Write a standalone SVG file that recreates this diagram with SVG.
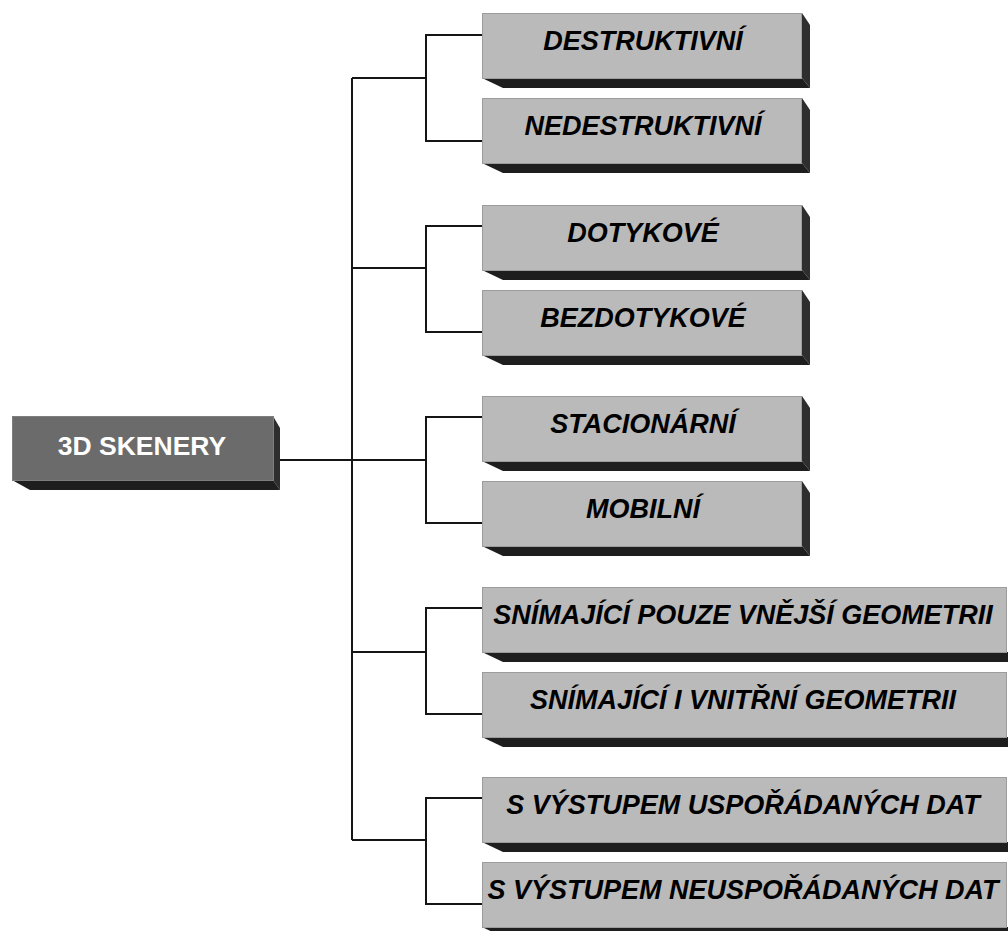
<svg xmlns="http://www.w3.org/2000/svg" width="1008" height="931" viewBox="0 0 1008 931">
<style>
.front{fill:#bababa;stroke:#9c9c9c;stroke-width:1}
.rface{fill:#2e2e2e}
.bface{fill:#1e1e1e}
.rootfront{fill:#6b6b6b;stroke:#7e7e7e;stroke-width:1}
.lbl{font-family:"Liberation Sans",Arial,sans-serif;font-weight:bold;font-style:italic;font-size:27px;fill:#000;text-anchor:middle}
.rootlbl{font-family:"Liberation Sans",Arial,sans-serif;font-weight:bold;font-size:26.5px;fill:#fff;text-anchor:middle}
.conn{stroke:#151515;stroke-width:2;fill:none}
</style>
<rect width="1008" height="931" fill="#fff"/>
<g id="connectors" class="conn">
<path d="M280,460 H426"/>
<path d="M352,78 V840"/>
<path d="M352,78 H426 M352,268 H426 M352,652 H426 M352,840 H426"/>
<path d="M482,35 H426 V141 H482"/>
<path d="M482,226 H426 V332 H482"/>
<path d="M482,417 H426 V523 H482"/>
<path d="M482,608 H426 V714 H482"/>
<path d="M482,798 H426 V904 H482"/>
</g>
<g id="root">
<polygon class="rface" points="273,416 280,428 280,490 273,480"/>
<polygon class="bface" points="12,480 30,490 280,490 273,480"/>
<rect class="rootfront" x="12.5" y="416.5" width="261" height="64"/>
<text class="rootlbl" x="142" y="455">3D SKENERY</text>
</g>
<g id="n1">
<polygon class="rface" points="802,13 810,25 810,88 802,78"/>
<polygon class="bface" points="482,78 503,88 810,88 802,78"/>
<rect class="front" x="482.5" y="13.5" width="319" height="65"/>
<text class="lbl" x="643" y="50">DESTRUKTIVNÍ</text>
</g>
<g id="n2">
<polygon class="rface" points="802,98 810,110 810,173 802,163"/>
<polygon class="bface" points="482,163 503,173 810,173 802,163"/>
<rect class="front" x="482.5" y="98.5" width="319" height="65"/>
<text class="lbl" x="643" y="135">NEDESTRUKTIVNÍ</text>
</g>
<g id="n3">
<polygon class="rface" points="802,205 810,217 810,280 802,270"/>
<polygon class="bface" points="482,270 503,280 810,280 802,270"/>
<rect class="front" x="482.5" y="205.5" width="319" height="65"/>
<text class="lbl" x="643" y="242">DOTYKOVÉ</text>
</g>
<g id="n4">
<polygon class="rface" points="802,290 810,302 810,365 802,355"/>
<polygon class="bface" points="482,355 503,365 810,365 802,355"/>
<rect class="front" x="482.5" y="290.5" width="319" height="65"/>
<text class="lbl" x="643" y="327">BEZDOTYKOVÉ</text>
</g>
<g id="n5">
<polygon class="rface" points="802,396 810,408 810,471 802,461"/>
<polygon class="bface" points="482,461 503,471 810,471 802,461"/>
<rect class="front" x="482.5" y="396.5" width="319" height="65"/>
<text class="lbl" x="643" y="433">STACIONÁRNÍ</text>
</g>
<g id="n6">
<polygon class="rface" points="802,481 810,493 810,556 802,546"/>
<polygon class="bface" points="482,546 503,556 810,556 802,546"/>
<rect class="front" x="482.5" y="481.5" width="319" height="65"/>
<text class="lbl" x="643" y="518">MOBILNÍ</text>
</g>
<g id="n7">
<polygon class="bface" points="482,652 503,662 1008,662 1008,652"/>
<rect class="front" x="482.5" y="587.5" width="524" height="65"/>
<text class="lbl" x="743" y="624">SNÍMAJÍCÍ POUZE VNĚJŠÍ GEOMETRII</text>
</g>
<g id="n8">
<polygon class="bface" points="482,737 503,747 1008,747 1008,737"/>
<rect class="front" x="482.5" y="672.5" width="524" height="65"/>
<text class="lbl" x="743" y="709">SNÍMAJÍCÍ I VNITŘNÍ GEOMETRII</text>
</g>
<g id="n9">
<polygon class="bface" points="482,842 503,852 1008,852 1008,842"/>
<rect class="front" x="482.5" y="777.5" width="524" height="65"/>
<text class="lbl" x="743" y="814">S VÝSTUPEM USPOŘÁDANÝCH DAT</text>
</g>
<g id="n10">
<polygon class="bface" points="482,927 503,937 1008,937 1008,927"/>
<rect class="front" x="482.5" y="862.5" width="524" height="65"/>
<text class="lbl" x="743" y="899">S VÝSTUPEM NEUSPOŘÁDANÝCH DAT</text>
</g>
</svg>
